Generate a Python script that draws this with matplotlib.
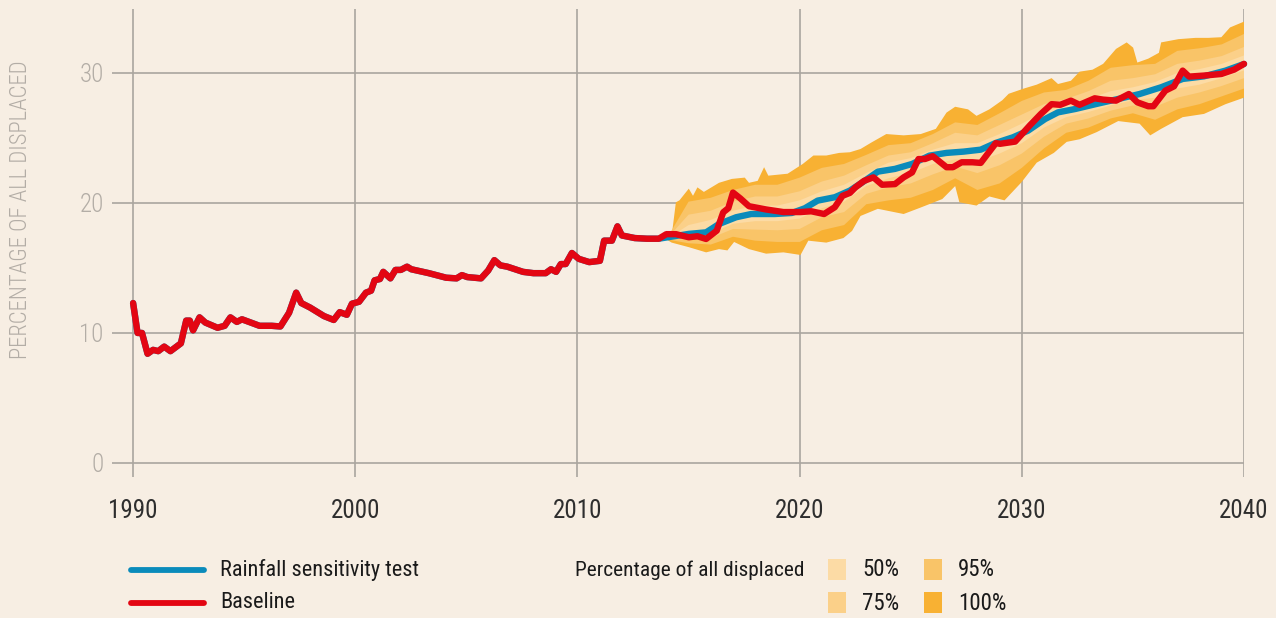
import numpy as np
import matplotlib
matplotlib.use("Agg")
import matplotlib.pyplot as plt
from matplotlib.lines import Line2D
from matplotlib.patches import Rectangle

FONT = ['Roboto Condensed', 'Archivo Narrow', 'PT Sans Narrow', 'Liberation Sans Narrow', 'DejaVu Sans']
plt.rcParams['font.family'] = FONT

# ---------------- data ----------------
hist_years = [1990.0, 1990.2, 1990.4, 1990.65, 1990.9, 1991.13, 1991.4, 1991.68, 1992.15, 1992.39,
              1992.55, 1992.7, 1992.99, 1993.25, 1993.8, 1994.12, 1994.38, 1994.67, 1994.9, 1995.3,
              1995.69, 1996.24, 1996.63, 1997.02, 1997.34, 1997.57, 1997.97, 1998.59, 1999.03, 1999.3,
              1999.62, 1999.85, 2000.17, 2000.48, 2000.71, 2000.87, 2001.11, 2001.26, 2001.58, 2001.81,
              2002.05, 2002.33, 2002.52, 2003.31, 2004.09, 2004.56, 2004.8, 2005.04, 2005.66, 2005.98,
              2006.26, 2006.53, 2006.84, 2007.55, 2008.02, 2008.57, 2008.81, 2009.04, 2009.25, 2009.47,
              2009.75, 2010.06, 2010.53, 2011.01, 2011.2, 2011.55, 2011.8, 2012.0, 2012.58, 2013.13,
              2013.66]
hist_vals = [12.3, 10.0, 10.0, 8.4, 8.7, 8.6, 8.95, 8.6, 9.2, 10.95,
             10.95, 10.2, 11.2, 10.8, 10.4, 10.55, 11.2, 10.85, 11.05, 10.8,
             10.55, 10.55, 10.5, 11.55, 13.1, 12.3, 11.95, 11.3, 11.0, 11.6,
             11.4, 12.25, 12.4, 13.1, 13.25, 14.05, 14.15, 14.7, 14.2, 14.85,
             14.85, 15.1, 14.9, 14.6, 14.25, 14.2, 14.45, 14.3, 14.2, 14.8,
             15.6, 15.2, 15.1, 14.7, 14.6, 14.6, 14.9, 14.7, 15.3, 15.3,
             16.15, 15.7, 15.45, 15.55, 17.1, 17.1, 18.2, 17.5, 17.3, 17.25,
             17.25]

baseline_years = [2014.0, 2014.43, 2015.01, 2015.4, 2015.79, 2016.27, 2016.56, 2016.79, 2017.0, 2017.33,
                  2017.72, 2018.49, 2019.27, 2020.04, 2020.52, 2021.1, 2021.58, 2021.93, 2022.26, 2022.51,
                  2022.9, 2023.32, 2023.71, 2024.29, 2024.68, 2025.06, 2025.35, 2025.64, 2025.99, 2026.61,
                  2026.9, 2027.29, 2027.77, 2028.15, 2028.83, 2029.02, 2029.7, 2030.38, 2030.86, 2031.34,
                  2031.73, 2032.21, 2032.6, 2033.28, 2033.66, 2034.24, 2034.82, 2035.2, 2035.69, 2035.92,
                  2036.46, 2036.85, 2037.24, 2037.53, 2038.2, 2038.98, 2039.56, 2040.0]
baseline_vals = [17.6, 17.6, 17.36, 17.44, 17.23, 17.87, 19.28, 19.6, 20.8, 20.35,
                 19.75, 19.5, 19.3, 19.3, 19.36, 19.15, 19.67, 20.55, 20.77, 21.2,
                 21.7, 21.97, 21.4, 21.45, 21.97, 22.35, 23.38, 23.38, 23.6, 22.75,
                 22.75, 23.13, 23.13, 23.08, 24.6, 24.55, 24.72, 26.0, 26.85, 27.6,
                 27.55, 27.87, 27.55, 28.05, 27.95, 27.87, 28.38, 27.74, 27.44, 27.44,
                 28.64, 28.97, 30.18, 29.72, 29.8, 29.92, 30.26, 30.7]

rain_years = [2015.01, 2015.79, 2016.37, 2017.14, 2017.82, 2018.88, 2019.65, 2020.23, 2020.81, 2021.58,
              2022.26, 2022.94, 2023.52, 2024.29, 2025.06, 2025.84, 2026.61, 2027.38, 2028.15, 2028.83,
              2029.6, 2030.28, 2031.05, 2031.63, 2032.41, 2033.37, 2034.34, 2035.3, 2036.27, 2037.24,
              2038.2, 2039.17, 2040.0]
rain_vals = [17.62, 17.74, 18.38, 18.9, 19.15, 19.15, 19.23, 19.59, 20.18, 20.44,
             20.95, 21.72, 22.41, 22.62, 23.0, 23.64, 23.85, 23.95, 24.1, 24.62,
             25.05, 25.56, 26.46, 26.97, 27.23, 27.62, 28.0, 28.38, 28.9, 29.54,
             29.74, 30.18, 30.69]

up100_years = [2014.0, 2014.25, 2014.43, 2014.59, 2015.01, 2015.2, 2015.4, 2015.69, 2016.37, 2016.95,
               2017.53, 2017.72, 2018.11, 2018.4, 2018.59, 2019.46, 2020.14, 2020.62, 2021.2, 2021.78,
               2022.26, 2022.74, 2023.23, 2023.9, 2024.68, 2025.45, 2026.13, 2026.61, 2027.0, 2027.58,
               2027.96, 2028.54, 2029.12, 2029.41, 2030.09, 2030.67, 2031.34, 2031.63, 2032.21, 2032.6,
               2033.18, 2033.66, 2034.24, 2034.72, 2035.01, 2035.2, 2035.69, 2036.17, 2036.27, 2037.05,
               2037.82, 2038.4, 2038.98, 2039.37, 2040.0]
up100_vals = [17.2, 17.6, 20.05, 20.2, 21.1, 20.55, 21.2, 20.85, 21.55, 21.85,
              21.95, 21.55, 21.7, 22.75, 22.1, 22.25, 23.0, 23.65, 23.65, 23.85,
              23.9, 24.15, 24.65, 25.3, 25.2, 25.3, 25.7, 26.95, 27.4, 27.2,
              26.7, 27.2, 27.9, 28.4, 28.8, 29.1, 29.6, 29.15, 29.4, 30.1,
              30.25, 30.7, 31.85, 32.35, 31.95, 30.8, 31.1, 31.55, 32.35, 32.6,
              32.7, 32.7, 32.75, 33.5, 33.95]
lo100_years = [2014.0, 2014.24, 2015.01, 2015.79, 2016.37, 2016.75, 2017.05, 2017.72, 2018.49, 2019.27,
               2020.04, 2020.39, 2021.2, 2021.97, 2022.36, 2022.74, 2023.52, 2024.68, 2025.45, 2026.42,
               2027.0, 2027.19, 2027.96, 2028.54, 2029.22, 2029.99, 2030.67, 2031.44, 2032.02, 2032.6,
               2033.37, 2034.34, 2035.3, 2035.78, 2036.27, 2037.24, 2038.2, 2039.17, 2040.0]
lo100_vals = [17.2, 16.95, 16.6, 16.2, 16.45, 16.35, 17.0, 16.45, 16.1, 16.2,
              16.0, 17.1, 16.95, 17.3, 17.85, 19.0, 19.55, 19.15, 19.65, 20.3,
              21.3, 20.05, 19.8, 20.5, 20.2, 21.6, 23.1, 23.85, 24.7, 24.9,
              25.45, 26.3, 26.1, 25.2, 25.7, 26.6, 26.85, 27.6, 28.1]

band_years = list(range(2014, 2041))
up95 = [17.2, 20.1, 20.4, 21.0, 21.4, 21.4, 21.95, 22.7, 23.0, 23.7, 24.45, 24.6, 25.3, 26.2, 26.0,
        26.9, 27.85, 28.5, 28.7, 29.4, 30.4, 30.6, 30.7, 31.7, 31.9, 32.2, 33.0]
lo95 = [17.2, 16.9, 16.8, 17.4, 17.1, 17.0, 17.0, 17.9, 18.3, 19.9, 20.2, 20.4, 21.0, 21.9, 21.0,
        21.5, 22.7, 24.2, 25.4, 25.8, 26.5, 26.9, 26.4, 27.2, 27.6, 28.2, 28.8]
up75 = [17.2, 19.1, 19.4, 20.1, 20.5, 20.5, 20.9, 21.65, 22.1, 22.9, 23.65, 23.9, 24.6, 25.4, 25.2,
        26.0, 26.8, 27.6, 28.0, 28.6, 29.4, 29.6, 29.9, 30.7, 30.95, 31.3, 32.0]
lo75 = [17.2, 17.2, 17.3, 18.0, 17.95, 17.9, 18.0, 18.9, 19.3, 20.7, 21.2, 21.5, 22.2, 22.8, 22.3,
        22.9, 23.8, 25.1, 26.1, 26.5, 27.1, 27.5, 27.4, 28.1, 28.5, 29.0, 29.6]
up50 = [17.2, 18.3, 18.7, 19.4, 19.8, 19.8, 20.2, 20.9, 21.4, 22.3, 23.1, 23.45, 24.1, 24.6, 24.6,
        25.3, 26.1, 27.0, 27.55, 28.0, 28.6, 28.9, 29.3, 30.0, 30.3, 30.7, 31.35]
lo50 = [17.2, 17.4, 17.65, 18.4, 18.6, 18.6, 18.8, 19.6, 20.1, 21.3, 21.9, 22.3, 23.0, 23.35, 23.2,
        23.8, 24.6, 25.8, 26.6, 27.0, 27.5, 27.9, 28.1, 28.8, 29.1, 29.6, 30.2]

x_ticks = [1990, 2000, 2010, 2020, 2030, 2040]
y_ticks = [0, 10, 20, 30]
y_label = "PERCENTAGE OF ALL DISPLACED"
series_labels = ["Rainfall sensitivity test", "Baseline"]
band_title = "Percentage of all displaced"
band_labels = ["50%", "75%", "95%", "100%"]

# ---------------- style ----------------
BG = '#f7eee3'
GRID = '#aaa59f'
BLUE = '#0a8bbb'
RED = '#e30613'
C100 = '#f8b133'
C95 = '#f9c468'
C75 = '#fbd089'
C50 = '#fcdba5'
W, H = 1276, 618

fig = plt.figure(figsize=(W / 100, H / 100), dpi=100, facecolor=BG)
ax = fig.add_axes([112 / W, 1 - 477 / H, (1244 - 112) / W, (477 - 9) / H])
ax.set_facecolor(BG)
ax.set_xlim(1989.05, 2040)
ax.set_ylim(-1.08, 34.92)
for s in ax.spines.values():
    s.set_visible(False)
ax.set_xticks(x_ticks)
ax.set_yticks(y_ticks)
ax.grid(True, color=GRID, lw=1.2)
ax.set_axisbelow(True)
ax.tick_params(axis='both', length=0)
ax.tick_params(axis='x', pad=16, labelsize=18, labelcolor='#2e2e2e')
ax.tick_params(axis='y', pad=6, labelsize=18, labelcolor='#b3ada6')
for lab in ax.get_yticklabels():
    lab.set_fontweight('light')


def band(uy, uv, ly, lv, color):
    xs = np.concatenate([np.asarray(uy, float), np.asarray(ly, float)[::-1]])
    ys = np.concatenate([np.asarray(uv, float), np.asarray(lv, float)[::-1]])
    ax.fill(xs, ys, color=color, lw=0, zorder=2)


band(up100_years, up100_vals, lo100_years, lo100_vals, C100)
band(band_years, up95, band_years, lo95, C95)
band(band_years, up75, band_years, lo75, C75)
band(band_years, up50, band_years, lo50, C50)

rain_x = hist_years + rain_years
rain_y = hist_vals + rain_vals
base_x = hist_years + baseline_years
base_y = hist_vals + baseline_vals
ax.plot(rain_x, rain_y, color=BLUE, lw=4.6, solid_capstyle='round', solid_joinstyle='round',
        zorder=3, clip_on=False)
ax.plot(base_x, base_y, color=RED, lw=4.6, solid_capstyle='round', solid_joinstyle='round',
        zorder=4, clip_on=False)

fig.text(20 / W, 1 - 210 / H, y_label, rotation=90, ha='center', va='center',
         fontsize=16.4, color='#b3ada6', fontweight='light')

# ---------------- legend ----------------
for i, (lab, col) in enumerate(zip(series_labels, [BLUE, RED])):
    yy = 1 - (570 + 33 * i) / H
    fig.add_artist(Line2D([131 / W, 204 / W], [yy, yy], transform=fig.transFigure,
                          color=col, lw=4.2, solid_capstyle='round'))
    fig.text(220 / W, yy, lab, ha='left', va='center', fontsize=16, color='#1a1a1a')

fig.text(575 / W, 1 - 570 / H, band_title, ha='left', va='center', fontsize=15.4, color='#1a1a1a')
sw_pos = [(828, 570), (828, 603), (924, 570), (924, 603)]
for (sx, sy), lab, col in zip(sw_pos, band_labels, [C50, C75, C95, C100]):
    fig.add_artist(Rectangle((sx / W, 1 - (sy + 10) / H), 18 / W, 21 / H,
                             transform=fig.transFigure, color=col, lw=0))
    fig.text((sx + 34) / W, 1 - sy / H, lab, ha='left', va='center', fontsize=16.5, color='#1a1a1a')

fig.savefig('out.png', dpi=100, facecolor=BG)
